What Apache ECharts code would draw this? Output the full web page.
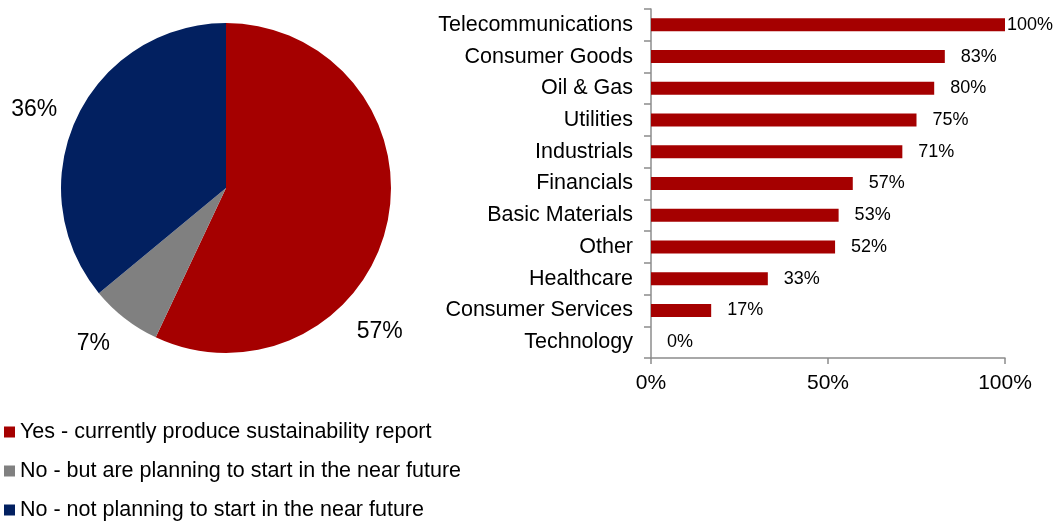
<!DOCTYPE html>
<html>
<head>
<meta charset="utf-8">
<script src="https://cdn.jsdelivr.net/npm/echarts@6/dist/echarts.min.js"></script>
<style>
  html, body { margin: 0; padding: 0; background: #fff; }
  #chart { width: 1057px; height: 523px; }
</style>
</head>
<body>
<div id="chart"></div>
<script>
// Share of companies producing a sustainability report
const pieNames = [
  'Yes - currently produce sustainability report',
  'No - but are planning to start in the near future',
  'No - not planning to start in the near future'
];
const pieValues = [57, 7, 36];
const pieColors = ['#A50000', '#808080', '#022060'];

// Reporting rate by sector (top to bottom)
const sectors = [
  'Telecommunications', 'Consumer Goods', 'Oil & Gas', 'Utilities', 'Industrials',
  'Financials', 'Basic Materials', 'Other', 'Healthcare', 'Consumer Services', 'Technology'
];
const sectorValues = [100, 83, 80, 75, 71, 57, 53, 52, 33, 17, 0];
const xTicks = [0, 50, 100];

// Pie label nudges (best-fit placement around the rim)
const pieLabelOffsets = [[-51, 104], [0, 13], [0, -1]];

const FONT = '"Liberation Sans", Arial, sans-serif';
const chart = echarts.init(document.getElementById('chart'));

chart.setOption({
  animation: false,
  textStyle: { fontFamily: FONT, color: '#000' },
  legend: {
    orient: 'vertical',
    left: 4,
    top: 421,
    padding: 0,
    itemWidth: 11,
    itemHeight: 11,
    itemGap: 17,
    icon: 'rect',
    textStyle: { fontFamily: FONT, fontSize: 21.5, color: '#000' },
    data: pieNames
  },
  grid: { left: 651, right: 52, top: 9, bottom: 165 },
  xAxis: {
    type: 'value',
    min: xTicks[0],
    max: xTicks[xTicks.length - 1],
    interval: 50,
    splitLine: { show: false },
    axisLine: { show: true, lineStyle: { color: '#8c8c8c', width: 1.5 } },
    axisTick: { show: true, length: 6, lineStyle: { color: '#8c8c8c', width: 1.5 } },
    axisLabel: { formatter: '{value}%', fontSize: 21, color: '#000', margin: 15, fontFamily: FONT }
  },
  yAxis: {
    type: 'category',
    inverse: true,
    data: sectors,
    axisLine: { show: true, lineStyle: { color: '#8c8c8c', width: 1.5 } },
    axisTick: { show: true, length: 7, lineStyle: { color: '#8c8c8c', width: 1.5 } },
    axisLabel: { fontSize: 21.5, color: '#000', margin: 18, fontFamily: FONT }
  },
  series: [
    {
      type: 'pie',
      center: [226, 188],
      radius: 165,
      startAngle: 90,
      clockwise: true,
      label: {
        show: true,
        position: 'outside',
        formatter: '{c}%',
        fontSize: 23,
        color: '#000',
        fontFamily: FONT
      },
      labelLine: { show: false, length: 16, length2: 0 },
      data: pieNames.map((n, i) => ({
        name: n,
        value: pieValues[i],
        itemStyle: { color: pieColors[i] },
        label: { offset: pieLabelOffsets[i] }
      }))
    },
    {
      type: 'bar',
      barWidth: 13,
      itemStyle: { color: '#A50000' },
      label: {
        show: true,
        position: 'right',
        distance: 16,
        formatter: '{c}%',
        fontSize: 18,
        color: '#000',
        fontFamily: FONT
      },
      data: sectorValues.map(v => v === 100
        ? { value: v, label: { distance: 2 } }
        : v)
    }
  ]
});
</script>
</body>
</html>
